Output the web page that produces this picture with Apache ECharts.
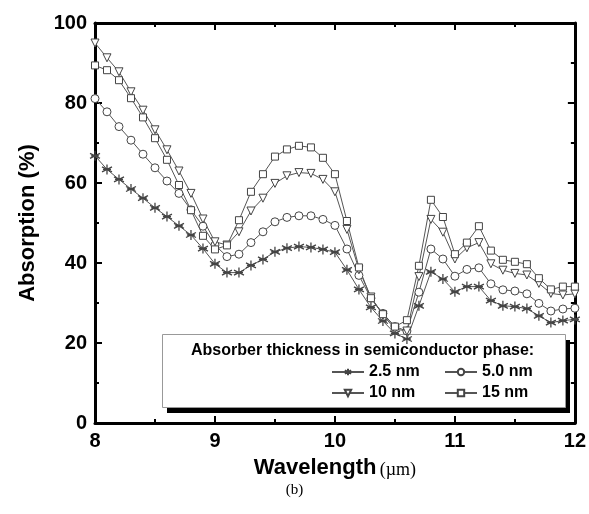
<!DOCTYPE html>
<html>
<head>
<meta charset="utf-8">
<script src="https://cdn.jsdelivr.net/npm/echarts@6/dist/echarts.min.js"></script>
<style>
  html, body { margin: 0; padding: 0; background: #fff; }
  #chart { width: 589px; height: 514px; }
</style>
</head>
<body>
<div id="chart"></div>
<script>
// 波长 (µm)
var wavelength = [8.0, 8.1, 8.2, 8.3, 8.4, 8.5, 8.6, 8.7, 8.8, 8.9,
                  9.0, 9.1, 9.2, 9.3, 9.4, 9.5, 9.6, 9.7, 9.8, 9.9,
                  10.0, 10.1, 10.2, 10.3, 10.4, 10.5, 10.6, 10.7, 10.8, 10.9,
                  11.0, 11.1, 11.2, 11.3, 11.4, 11.5, 11.6, 11.7, 11.8, 11.9, 12.0];
// 吸收率 (%)
var abs25 = [66.8, 63.4, 60.9, 58.5, 56.2, 53.8, 51.6, 49.3, 47.0, 43.6,
             39.8, 37.6, 37.6, 39.4, 40.9, 42.8, 43.7, 44.1, 43.9, 43.4,
             42.7, 38.3, 33.4, 28.9, 25.5, 22.4, 21.0, 29.3, 37.8, 36.0,
             32.8, 34.1, 34.1, 30.6, 29.3, 29.1, 28.6, 26.8, 25.1, 25.6, 25.9];
var abs50 = [81.1, 77.8, 74.1, 70.7, 67.2, 63.8, 60.5, 57.4, 53.3, 49.2,
             44.5, 41.6, 42.2, 45.1, 47.8, 50.3, 51.4, 51.8, 51.8, 50.9,
             49.4, 43.5, 36.9, 31.2, 27.4, 24.1, 23.0, 32.7, 43.5, 41.0,
             36.7, 38.4, 38.8, 34.8, 33.3, 33.0, 32.3, 29.9, 28.0, 28.5, 28.7];
var abs10 = [95.0, 91.3, 87.8, 82.8, 78.2, 73.3, 68.3, 63.0, 57.4, 51.0,
             45.3, 44.5, 47.8, 53.0, 56.2, 59.9, 61.8, 62.6, 62.4, 60.9,
             57.8, 48.4, 38.3, 31.5, 27.0, 23.5, 23.0, 36.6, 50.9, 47.7,
             41.0, 43.8, 45.1, 39.8, 38.2, 37.4, 37.0, 34.9, 32.4, 32.0, 32.3];
var abs15 = [89.4, 88.2, 85.7, 81.2, 76.4, 71.2, 65.8, 59.5, 53.2, 46.8,
             43.4, 44.4, 50.7, 57.8, 62.2, 66.6, 68.4, 69.3, 68.9, 66.3,
             62.2, 50.5, 38.9, 31.2, 27.2, 24.1, 25.7, 39.3, 55.8, 51.5,
             42.2, 45.1, 49.2, 43.1, 40.8, 40.3, 39.7, 36.2, 33.4, 34.1, 34.1];
var seriesNames = ['2.5 nm', '5.0 nm', '10 nm', '15 nm'];
var xTicks = [8, 9, 10, 11, 12];
var yTicks = [0, 20, 40, 60, 80, 100];
var legendTitle = 'Absorber thickness in semiconductor phase:';

var SANS = '"Liberation Sans", Arial, sans-serif';
var SERIF = '"Liberation Serif", "Times New Roman", serif';
var STAR = 'path://M5,0L5,10M0.67,2.5L9.33,7.5M0.67,7.5L9.33,2.5M1.5,5L8.5,5';

var chart = echarts.init(document.getElementById('chart'), null, { renderer: 'canvas' });

function pairs(vals) {
	return wavelength.map(function (w, i) { return [w, vals[i]]; });
}

function makeSeries(name, vals, symbol, rotate, size, filled) {
	return {
		name: name,
		type: 'line',
		data: pairs(vals),
		symbol: symbol,
		symbolSize: size,
		symbolRotate: rotate,
		showAllSymbol: true,
		clip: false,
		z: 3,
		lineStyle: { color: '#555', width: 1 },
		itemStyle: {
			color: filled ? '#333' : '#fff',
			borderColor: '#444',
			borderWidth: filled ? 1.3 : 1
		},
		emphasis: { disabled: true }
	};
}

var frameAxis = {
	axisLine: { show: true, onZero: false, lineStyle: { color: '#000', width: 3 } },
	axisTick: { show: true, inside: true, length: 7, lineStyle: { color: '#000', width: 2 } },
	minorTick: { show: true, splitNumber: 2, length: 4, lineStyle: { color: '#000', width: 2 } },
	splitLine: { show: false }
};

function axis(extra) {
	return Object.assign({}, JSON.parse(JSON.stringify(frameAxis)), extra);
}

var legendText = { fontFamily: SANS, fontWeight: 'bold', fontSize: 16, color: '#000' };
function legendItem(name, left, top) {
	return {
		data: [name],
		left: left,
		top: top,
		padding: 0,
		itemWidth: 32,
		itemHeight: 8,
		itemGap: 4,
		textStyle: legendText,
		selectedMode: false,
		z: 5
	};
}

var option = {
	animation: false,
	backgroundColor: '#fff',
	grid: { left: 95, top: 23, width: 480, height: 400 },
	xAxis: [
		axis({
			type: 'value', min: xTicks[0], max: xTicks[xTicks.length - 1], interval: 1,
			position: 'bottom',
			axisLabel: { color: '#000', fontFamily: SANS, fontWeight: 'bold', fontSize: 20, margin: 8 },
			name: '{a|Wavelength} {b|(µm)}',
			nameLocation: 'middle',
			nameGap: 34,
			nameTextStyle: {
				rich: {
					a: { fontFamily: SANS, fontWeight: 'bold', fontSize: 22, color: '#000' },
					b: { fontFamily: SERIF, fontSize: 18, color: '#000', padding: [4, 0, 0, 0] }
				}
			}
		}),
		axis({
			type: 'value', min: xTicks[0], max: xTicks[xTicks.length - 1], interval: 1,
			position: 'top',
			axisLabel: { show: false }
		})
	],
	yAxis: [
		axis({
			type: 'value', min: yTicks[0], max: yTicks[yTicks.length - 1], interval: 20,
			position: 'left',
			axisLabel: { color: '#000', fontFamily: SANS, fontWeight: 'bold', fontSize: 20, margin: 8 },
			name: 'Absorption (%)',
			nameLocation: 'middle',
			nameGap: 56,
			nameTextStyle: { fontFamily: SANS, fontWeight: 'bold', fontSize: 22, color: '#000' }
		}),
		axis({
			type: 'value', min: yTicks[0], max: yTicks[yTicks.length - 1], interval: 20,
			position: 'right',
			axisLabel: { show: false }
		})
	],
	legend: [
		legendItem(seriesNames[0], 331, 364),
		legendItem(seriesNames[1], 444, 364),
		legendItem(seriesNames[2], 331, 385),
		legendItem(seriesNames[3], 444, 385)
	],
	graphic: [
		// 图例框阴影
		{
			type: 'rect', z: 1,
			shape: { x: 167, y: 340, width: 403, height: 73 },
			style: { fill: '#000' }
		},
		// 图例框
		{
			type: 'rect', z: 1,
			shape: { x: 162.5, y: 334.5, width: 403, height: 73 },
			style: { fill: '#fff', stroke: '#999', lineWidth: 1 }
		},
		{
			type: 'text', z: 5, left: 191, top: 343,
			style: { text: legendTitle, font: 'bold 16px ' + SANS, fill: '#000' }
		},
		{
			type: 'text', z: 5, left: 'center', top: 483,
			style: { text: '(b)', font: '15px ' + SERIF, fill: '#000' }
		}
	],
	series: [
		makeSeries(seriesNames[0], abs25, STAR, 0, 10, true),
		makeSeries(seriesNames[1], abs50, 'circle', 0, 8, false),
		makeSeries(seriesNames[2], abs10, 'triangle', 180, 8, false),
		makeSeries(seriesNames[3], abs15, 'rect', 0, 7, false)
	]
};

chart.setOption(option);
</script>
</body>
</html>
